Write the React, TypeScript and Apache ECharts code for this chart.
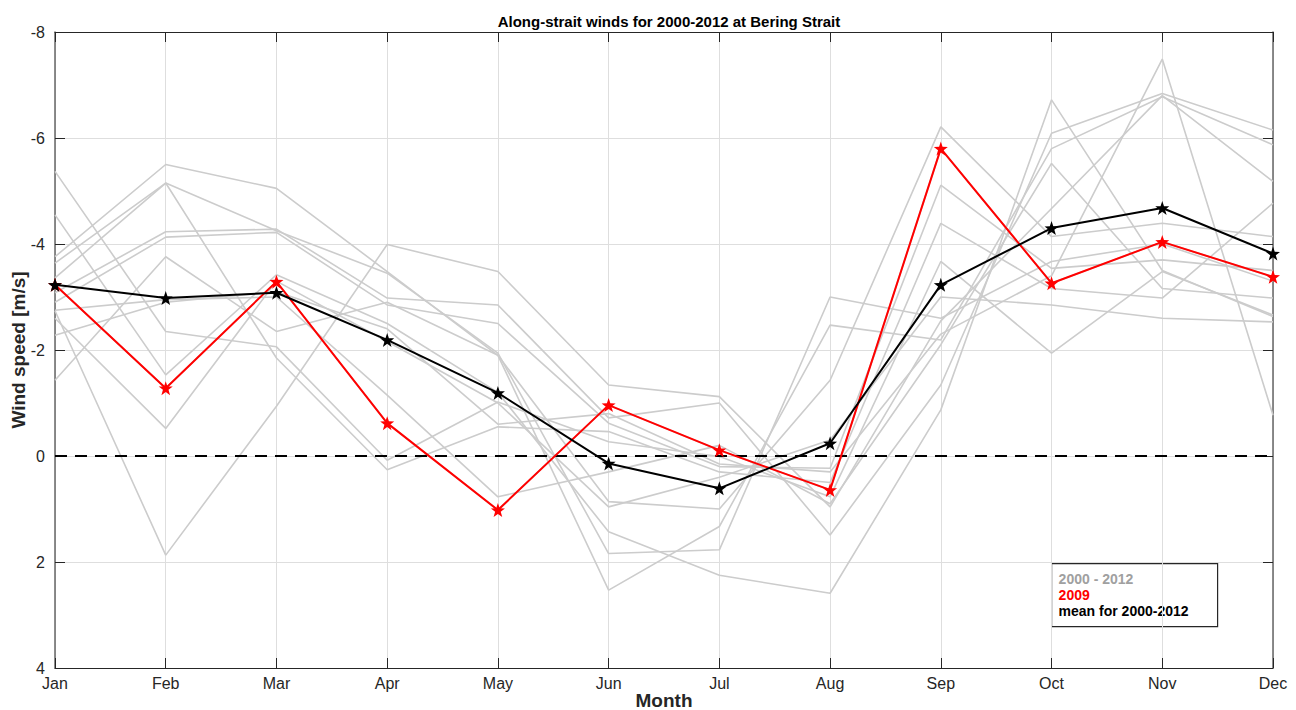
import React, { useEffect, useRef } from "react";
import * as echarts from "echarts";

// Month categories along the x axis
const months = ["Jan", "Feb", "Mar", "Apr", "May", "Jun", "Jul", "Aug", "Sep", "Oct", "Nov", "Dec"];

// Monthly along-strait wind speed [m/s], one array per year
const y2000 = [-5.37, -2.35, -2.06, 0.08, -1.02, -0.27, 0.01, 0.77, -3.67, -1.94, -3.48, -2.66];
const y2001 = [-4.55, -1.53, -3.42, -2.5, -1.2, 1.43, 2.25, 2.59, -0.87, -6.72, -3.5, -2.63];
const y2002 = [-3.76, -5.5, -5.05, -3.48, -1.9, 0.86, 1.0, -1.43, -6.21, -4.14, -4.39, -4.14];
const y2003 = [-3.64, -5.15, -4.25, -3.45, -1.94, 1.84, 1.77, -3.0, -2.6, -3.67, -4.0, -3.3];
const y2004 = [-3.36, -5.15, -1.85, 0.26, -0.55, -0.46, 0.3, 0.5, -4.39, -3.16, -2.98, -4.77];
const y2005 = [-3.08, -4.23, -4.28, -2.98, -2.85, -0.72, -1.0, 1.49, -1.34, -6.09, -6.84, -6.15];
const y2006 = [-2.9, -4.13, -4.22, -2.85, -2.5, -0.62, 0.2, 0.23, -5.11, -3.54, -3.7, -3.5];
const y2007 = [-2.75, -2.95, -3.0, -1.15, 0.77, 0.3, -0.2, 0.9, -2.1, -5.52, -3.16, -2.98];
const y2008 = [-2.74, 1.87, -0.94, -3.99, -3.48, -1.34, -1.12, 0.96, -2.55, -4.67, -6.8, -5.18];
const y2009 = [-3.23, -1.28, -3.29, -0.62, 1.02, -0.96, -0.11, 0.64, -5.8, -3.26, -4.04, -3.38];
const y2010 = [-2.6, -0.52, -3.3, -2.16, -1.0, 0.96, 0.4, -0.3, -3.0, -2.85, -2.6, -2.53];
const y2011 = [-2.28, -2.9, -3.1, -2.4, -0.6, -0.8, 0.15, 0.3, -2.3, -3.4, -7.49, -0.77];
const y2012 = [-1.43, -3.76, -2.35, -2.9, -1.9, 2.53, 1.33, -2.47, -2.19, -5.8, -6.78, -5.87];

// Climatological mean for 2000-2012
const meanSpeed = [-3.23, -2.98, -3.08, -2.19, -1.19, 0.14, 0.61, -0.24, -3.23, -4.3, -4.68, -3.82];

// Zero reference level
const zeroLine = months.map(() => 0);

const yearNames = ["2000", "2001", "2002", "2003", "2004", "2005", "2006", "2007", "2008", "2009", "2010", "2011", "2012"];
const yearData = [y2000, y2001, y2002, y2003, y2004, y2005, y2006, y2007, y2008, y2009, y2010, y2011, y2012];

const FONT = "'Liberation Sans', Arial, Helvetica, sans-serif";
const STAR =
  "path://M0,-10 L2.35,-3.24 L9.51,-3.09 L3.8,1.24 L5.88,8.09 L0,4 L-5.88,8.09 L-3.8,1.24 L-9.51,-3.09 L-2.35,-3.24 Z";

export default function App() {
  const ref = useRef<HTMLDivElement>(null);

  useEffect(() => {
    if (!ref.current) return;
    const chart = echarts.init(ref.current, undefined, { renderer: "svg" });

    const greySeries = yearData.map((d, i) => ({
      name: yearNames[i],
      type: "line",
      data: d,
      symbol: "none",
      silent: true,
      z: 1,
      lineStyle: { color: "#cccccc", width: 1.6 },
    }));

    const axisCommon = {
      min: -8,
      max: 4,
      interval: 2,
      inverse: true,
      axisLine: { show: true, lineStyle: { color: "#666666", width: 1.5 } },
      axisTick: { show: true, inside: true, length: 10, lineStyle: { color: "#262626", width: 1 } },
    };

    chart.setOption({
      animation: false,
      backgroundColor: "#ffffff",
      title: {
        text: "Along-strait winds for 2000-2012 at Bering Strait",
        left: 664,
        top: 9,
        textAlign: "center",
        textStyle: { fontFamily: FONT, fontSize: 15, fontWeight: "bold", color: "#000000" },
      },
      grid: { left: 55, right: 23, top: 32, bottom: 42, containLabel: false, outerBoundsMode: "none" },
      xAxis: [
        {
          type: "category",
          data: months,
          boundaryGap: false,
          position: "bottom",
          name: "Month",
          nameLocation: "middle",
          nameGap: 23,
          nameMoveOverlap: false,
          nameTextStyle: { fontFamily: FONT, fontSize: 19, fontWeight: "bold", color: "#262626" },
          axisLine: { show: true, onZero: false, lineStyle: { color: "#262626", width: 1 } },
          axisTick: { show: true, inside: true, length: 10, alignWithLabel: true, lineStyle: { color: "#262626" } },
          axisLabel: { fontFamily: FONT, fontSize: 16, color: "#262626", margin: 7 },
          splitLine: { show: true, lineStyle: { color: "#dedede", width: 1 } },
        },
        {
          type: "category",
          data: months,
          boundaryGap: false,
          position: "top",
          axisLine: { show: true, onZero: false, lineStyle: { color: "#262626", width: 1 } },
          axisTick: { show: true, inside: true, length: 10, lineStyle: { color: "#262626" } },
          axisLabel: { show: false },
          splitLine: { show: false },
        },
      ],
      yAxis: [
        {
          type: "value",
          position: "left",
          ...axisCommon,
          name: "Wind speed [m/s]",
          nameLocation: "middle",
          nameGap: 27,
          nameMoveOverlap: false,
          nameRotate: 90,
          nameTextStyle: { fontFamily: FONT, fontSize: 19, fontWeight: "bold", color: "#262626" },
          axisLabel: { fontFamily: FONT, fontSize: 16, color: "#262626", margin: 10 },
          splitLine: { show: true, lineStyle: { color: "#dedede", width: 1 } },
        },
        {
          type: "value",
          position: "right",
          ...axisCommon,
          axisLabel: { show: false },
          splitLine: { show: false },
        },
      ],
      series: [
        ...greySeries,
        {
          name: "zero",
          type: "line",
          data: zeroLine,
          symbol: "none",
          silent: true,
          z: 3,
          lineStyle: { color: "#000000", width: 2, type: [12, 8] },
        },
        {
          name: "2009",
          type: "line",
          data: y2009,
          symbol: STAR,
          symbolSize: 14,
          z: 5,
          lineStyle: { color: "#ff0000", width: 2 },
          itemStyle: { color: "#ff0000" },
        },
        {
          name: "mean for 2000-2012",
          type: "line",
          data: meanSpeed,
          symbol: STAR,
          symbolSize: 14,
          z: 6,
          lineStyle: { color: "#000000", width: 2 },
          itemStyle: { color: "#000000" },
        },
      ],
      graphic: [
        {
          type: "group",
          left: 1051,
          top: 563,
          z: 100,
          children: [
            {
              type: "rect",
              shape: { x: 0, y: 0, width: 166, height: 63 },
              style: { fill: "#ffffff", stroke: "#262626", lineWidth: 1.2 },
            },
            {
              type: "text",
              x: 7,
              y: 15,
              style: { text: "2000 - 2012", fill: "#a0a0a0", font: `bold 14px ${FONT}`, verticalAlign: "middle" },
            },
            {
              type: "text",
              x: 7,
              y: 31,
              style: { text: "2009", fill: "#ff0000", font: `bold 14px ${FONT}`, verticalAlign: "middle" },
            },
            {
              type: "text",
              x: 7,
              y: 47,
              style: { text: "mean for 2000-2012", fill: "#000000", font: `bold 14px ${FONT}`, verticalAlign: "middle" },
            },
          ],
        },
      ],
    });

    return () => chart.dispose();
  }, []);

  return (
    <div
      ref={ref}
      style={{ position: "fixed", left: 0, top: 0, width: 1296, height: 710, background: "#ffffff" }}
    />
  );
}
